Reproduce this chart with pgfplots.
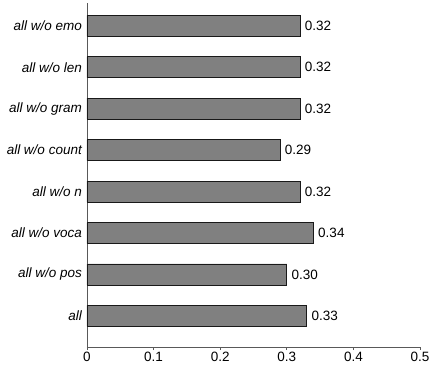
\documentclass[border=0pt]{standalone}
\usepackage{pgfplots}
\pgfplotsset{compat=1.18}
\usepackage{fontspec}
\setmainfont{Liberation Sans}
\begin{document}
\begin{tikzpicture}
\begin{axis}[
  scale only axis,
  width=333pt, height=344pt,
  xbar,
  bar width=21pt,
  xmin=0, xmax=0.5,
  ymin=-0.75, ymax=7.55,
  xtick={0,0.1,0.2,0.3,0.4,0.5},
  xticklabels={0,0.1,0.2,0.3,0.4,0.5},
  ytick={0,1,2,3,4,5,6,7},
  yticklabels={all, all w/o pos, all w/o voca, all w/o n, all w/o count, all w/o gram, all w/o len, all w/o emo},
  yticklabel style={font=\fontsize{13.5}{15}\selectfont\itshape, inner sep=2pt},
  xticklabel style={font=\fontsize{13.5}{15}\selectfont, inner sep=2pt},
  axis x line*=bottom,
  axis y line*=left,
  axis line style={black!65, line width=0.8pt},
  every tick/.style={black!65, line width=0.6pt},
  tick align=outside,
  major tick length=3pt,
  y tick style={draw=none},
  xtick pos=bottom, ytick pos=left,
  /pgf/number format/assume math mode=true,
  nodes near coords,
  nodes near coords style={font=\fontsize{13.5}{15}\selectfont, /pgf/number format/fixed, /pgf/number format/fixed zerofill, /pgf/number format/precision=2, inner sep=2pt, xshift=2.5pt},
]
\addplot[fill=black!50, draw=black!90, line width=0.6pt] coordinates {
  (0.33,0) (0.30,1) (0.34,2) (0.32,3) (0.29,4) (0.32,5) (0.32,6) (0.32,7)
};
\end{axis}
\pgfresetboundingbox
\path (current axis.south west) ++(-87pt,-25pt) rectangle ++(431pt,372pt);
\end{tikzpicture}
\end{document}
